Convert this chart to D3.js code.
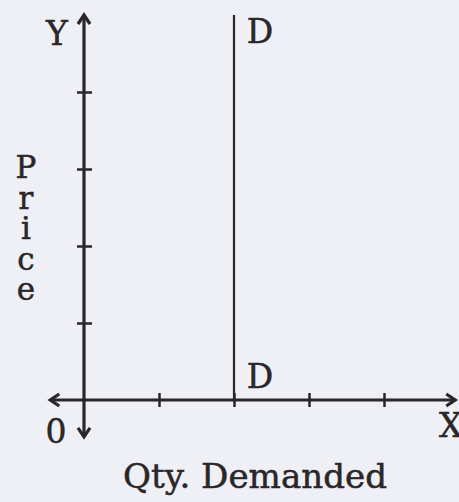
<!DOCTYPE html>
<html>
<head>
<meta charset="utf-8">
<script src="https://cdn.jsdelivr.net/npm/d3@7"></script>
<style>
  body { margin: 0; background: #eef0f5; }
  svg { display: block; }
  text { font-family: "DejaVu Serif", serif; fill: #2a2629; stroke: #2a2629; stroke-width: 0.5; }
</style>
</head>
<body>
<svg></svg>
<script>
// perfectly inelastic demand: fixed qty at any price
const xTicks = [1, 2, 3, 4];
const yTicks = [1, 2, 3, 4];
const demandQty = [2, 2];
const demandPrice = [0, 5];
const yTitle = "Price";
const xTitle = "Qty. Demanded";

const width = 459, height = 502;
const ink = "#2a2629";

const svg = d3.select("svg")
    .attr("width", width)
    .attr("height", height);

const x = d3.scaleLinear().domain([0, 5]).range([84, 459]);
const y = d3.scaleLinear().domain([0, 5]).range([400, 15]);

// axis lines with arrowheads
const arrow = (tx, ty, dir) => {
    const a = 9, b = 6;
    let p;
    if (dir === "up") p = `M${tx - b},${ty + a} L${tx},${ty} L${tx + b},${ty + a}`;
    if (dir === "down") p = `M${tx - b},${ty - a} L${tx},${ty} L${tx + b},${ty - a}`;
    if (dir === "left") p = `M${tx + a},${ty - b} L${tx},${ty} L${tx + a},${ty + b}`;
    if (dir === "right") p = `M${tx - a},${ty - b} L${tx},${ty} L${tx - a},${ty + b}`;
    svg.append("path").attr("d", p)
        .attr("fill", "none").attr("stroke", ink)
        .attr("stroke-width", 3.2).attr("stroke-linejoin", "miter");
};

svg.append("line")
    .attr("x1", x(0)).attr("x2", x(0))
    .attr("y1", y(5)).attr("y2", y(-0.48))
    .attr("stroke", ink).attr("stroke-width", 3.2);
arrow(x(0), y(5), "up");
arrow(x(0), y(-0.48), "down");

svg.append("line")
    .attr("x1", x(-0.45)).attr("x2", x(4.95))
    .attr("y1", y(0)).attr("y2", y(0))
    .attr("stroke", ink).attr("stroke-width", 3.2);
arrow(x(-0.45), y(0), "left");
arrow(x(4.95), y(0), "right");

// ticks crossing the axes
const xAxis = d3.axisBottom(x).tickValues(xTicks).tickSize(14).tickFormat("");
const gx = svg.append("g")
    .attr("transform", `translate(0,${y(0) - 7})`)
    .call(xAxis);
gx.select(".domain").remove();
gx.selectAll(".tick line").attr("stroke", ink).attr("stroke-width", 2.5);

const yAxis = d3.axisLeft(y).tickValues(yTicks).tickSize(15).tickFormat("");
const gy = svg.append("g")
    .attr("transform", `translate(${x(0) + 8},0)`)
    .call(yAxis);
gy.select(".domain").remove();
gy.selectAll(".tick line").attr("stroke", ink).attr("stroke-width", 2.5);

// demand curve
const line = d3.line().x(d => x(d[0])).y(d => y(d[1]));
svg.append("path")
    .datum(d3.zip(demandQty, demandPrice))
    .attr("d", line)
    .attr("fill", "none")
    .attr("stroke", ink)
    .attr("stroke-width", 2.2);

// labels
const fs = 33;
svg.append("text").attr("x", 57).attr("y", 45).attr("text-anchor", "middle")
    .attr("font-size", fs).text("Y");
svg.append("text").attr("x", 260).attr("y", 43).attr("text-anchor", "middle")
    .attr("font-size", fs).text("D");
svg.append("text").attr("x", 260).attr("y", 388).attr("text-anchor", "middle")
    .attr("font-size", fs).text("D");
svg.append("text").attr("x", 56).attr("y", 443).attr("text-anchor", "middle")
    .attr("font-size", fs).text("0");
svg.append("text").attr("x", 439).attr("y", 437).attr("text-anchor", "start")
    .attr("font-size", fs).text("X");
svg.append("text").attr("x", 123).attr("y", 488)
    .attr("font-size", fs)
    .attr("textLength", 264).attr("lengthAdjust", "spacingAndGlyphs")
    .text(xTitle);

// stacked upright "Price"
svg.append("text")
    .attr("x", 26)
    .attr("y", 149)
    .attr("font-size", 31)
    .style("writing-mode", "vertical-rl")
    .style("text-orientation", "upright")
    .style("letter-spacing", "-5.5px")
    .text(yTitle);
</script>
</body>
</html>
